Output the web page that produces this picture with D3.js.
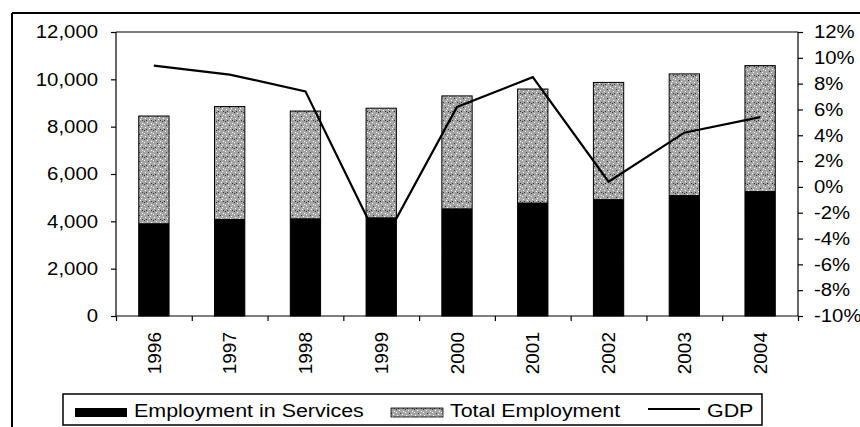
<!DOCTYPE html>
<html>
<head>
<meta charset="utf-8">
<script src="https://cdn.jsdelivr.net/npm/d3@7"></script>
<style>
  html, body { margin: 0; padding: 0; background: #fff; }
  svg text { font-family: "Liberation Sans", Arial, sans-serif; fill: #000; }
</style>
</head>
<body>
<svg id="chart" width="860" height="427"></svg>
<script>
// ---- data ----
const years = ["1996", "1997", "1998", "1999", "2000", "2001", "2002", "2003", "2004"];
const services = [3920, 4100, 4130, 4170, 4550, 4790, 4940, 5110, 5280];
const totalEmployment = [8450, 8850, 8660, 8780, 9300, 9590, 9870, 10230, 10580];
const gdp = [9.4, 8.7, 7.4, -4.6, 6.2, 8.5, 0.4, 4.2, 5.4];
const leftTicks = [0, 2000, 4000, 6000, 8000, 10000, 12000];
const rightTicks = [-10, -8, -6, -4, -2, 0, 2, 4, 6, 8, 10, 12];
const legendLabels = ["Employment in Services", "Total Employment", "GDP"];

const svg = d3.select("#chart");
const plot = { left: 116, right: 798, top: 32, bottom: 316 };

// patterns
const defs = svg.append("defs");
const pat = defs.append("pattern").attr("id", "stipple")
  .attr("patternUnits", "userSpaceOnUse").attr("width", 9).attr("height", 9);
pat.append("rect").attr("width", 9).attr("height", 9).attr("fill", "#a4a4a4");
const whiteDots = [[1,1],[5,2],[3,5],[7,6],[0,7],[6,0]];
const blackDots = [[2,3],[7,3],[4,8],[0,4]];
whiteDots.forEach(([x,y]) => pat.append("rect").attr("x", x).attr("y", y).attr("width", 1).attr("height", 1).attr("fill", "#fff"));
blackDots.forEach(([x,y]) => pat.append("rect").attr("x", x).attr("y", y).attr("width", 1).attr("height", 1).attr("fill", "#333"));

// outer chart border (partially cut)
svg.append("line").attr("x1", 12).attr("x2", 860).attr("y1", 13).attr("y2", 13).attr("stroke", "#000").attr("stroke-width", 2);
svg.append("line").attr("x1", 12).attr("x2", 12).attr("y1", 13).attr("y2", 427).attr("stroke", "#000").attr("stroke-width", 2);

// scales
const x = d3.scaleBand().domain(years).range([plot.left, plot.right]).paddingInner(0.6).paddingOuter(0.3);
const xEdges = d3.scaleLinear().domain([0, years.length]).range([plot.left, plot.right]);
const yL = d3.scaleLinear().domain([0, 12000]).range([plot.bottom, plot.top]);
const yR = d3.scaleLinear().domain([-10, 12]).range([plot.bottom, plot.top]);

// plot top border
svg.append("line").attr("x1", plot.left).attr("x2", plot.right).attr("y1", plot.top).attr("y2", plot.top)
  .attr("stroke", "#000").attr("stroke-width", 1.2);

// bars
const g = svg.append("g");
g.selectAll("rect.total").data(years).join("rect").attr("class", "total")
  .attr("x", d => x(d)).attr("width", x.bandwidth())
  .attr("y", (d, i) => yL(totalEmployment[i]))
  .attr("height", (d, i) => yL(0) - yL(totalEmployment[i]))
  .attr("fill", "url(#stipple)").attr("stroke", "#000").attr("stroke-width", 1);
g.selectAll("rect.serv").data(years).join("rect").attr("class", "serv")
  .attr("x", d => x(d)).attr("width", x.bandwidth())
  .attr("y", (d, i) => yL(services[i]))
  .attr("height", (d, i) => yL(0) - yL(services[i]))
  .attr("fill", "#000");

// axes
const fmt = d3.format(",");
const axL = svg.append("g").attr("transform", `translate(${plot.left},0)`)
  .call(d3.axisLeft(yL).tickValues(leftTicks).tickFormat(fmt).tickSize(5).tickPadding(13));
const axR = svg.append("g").attr("transform", `translate(${plot.right},0)`)
  .call(d3.axisRight(yR).tickValues(rightTicks).tickFormat(d => d + "%").tickSize(5).tickPadding(11));
const axB = svg.append("g").attr("transform", `translate(0,${plot.bottom})`)
  .call(d3.axisBottom(xEdges).tickValues(d3.range(0, years.length + 1)).tickFormat("").tickSize(5));
const axYears = svg.append("g").attr("transform", `translate(0,${plot.bottom})`)
  .call(d3.axisBottom(x).tickSize(0).tickPadding(0));
axYears.select(".domain").remove();
axYears.selectAll("text")
  .attr("transform", "rotate(-90)")
  .attr("x", -16).attr("y", 0).attr("dy", "0.35em")
  .attr("text-anchor", "end")
  .style("font-size", "19px");

[axL, axR, axB].forEach(a => {
  a.selectAll(".domain").attr("stroke", "#000").attr("stroke-width", 1.2);
  a.selectAll(".tick line").attr("stroke", "#000").attr("stroke-width", 1.2);
});
axB.selectAll(".domain").attr("d", `M${plot.left},0H${plot.right}`);
axL.selectAll(".domain").attr("d", `M0,${plot.bottom}V${plot.top}`);
axR.selectAll(".domain").attr("d", `M0,${plot.bottom}V${plot.top}`);
axL.selectAll("text").style("font-size", "18px").classed("stretch", true);
axR.selectAll("text").style("font-size", "18px").classed("stretch", true);

// GDP line
const line = d3.line().x((d, i) => x(years[i]) + x.bandwidth() / 2).y(d => yR(d));
svg.append("path").datum(gdp).attr("d", line)
  .attr("fill", "none").attr("stroke", "#000").attr("stroke-width", 2.2).attr("stroke-linejoin", "miter");

// legend
const lg = svg.append("g");
lg.append("rect").attr("x", 63).attr("y", 394).attr("width", 699).attr("height", 31)
  .attr("fill", "#fff").attr("stroke", "#000").attr("stroke-width", 1.5);
lg.append("rect").attr("x", 75).attr("y", 408).attr("width", 52).attr("height", 9).attr("fill", "#000");
lg.append("text").attr("x", 134).attr("y", 417).text(legendLabels[0]).style("font-size", "18px")
  .classed("stretch", true).attr("data-k", 1.19);
lg.append("rect").attr("x", 391).attr("y", 408).attr("width", 52).attr("height", 9)
  .attr("fill", "url(#stipple)").attr("stroke", "#000").attr("stroke-width", 0.8);
lg.append("text").attr("x", 450).attr("y", 417).text(legendLabels[1]).style("font-size", "18px")
  .classed("stretch", true).attr("data-k", 1.19);
lg.append("line").attr("x1", 648).attr("x2", 700).attr("y1", 409).attr("y2", 409)
  .attr("stroke", "#000").attr("stroke-width", 2.2);
lg.append("text").attr("x", 707).attr("y", 417).text(legendLabels[2]).style("font-size", "18px")
  .classed("stretch", true).attr("data-k", 1.19);

// horizontal stretch to match the wide lettering of the original
svg.selectAll("text.stretch").each(function () {
  const k = +this.getAttribute("data-k") || 1.13;
  const len = this.getComputedTextLength();
  this.setAttribute("textLength", (len * k).toFixed(1));
  this.setAttribute("lengthAdjust", "spacingAndGlyphs");
});
</script>
</body>
</html>
